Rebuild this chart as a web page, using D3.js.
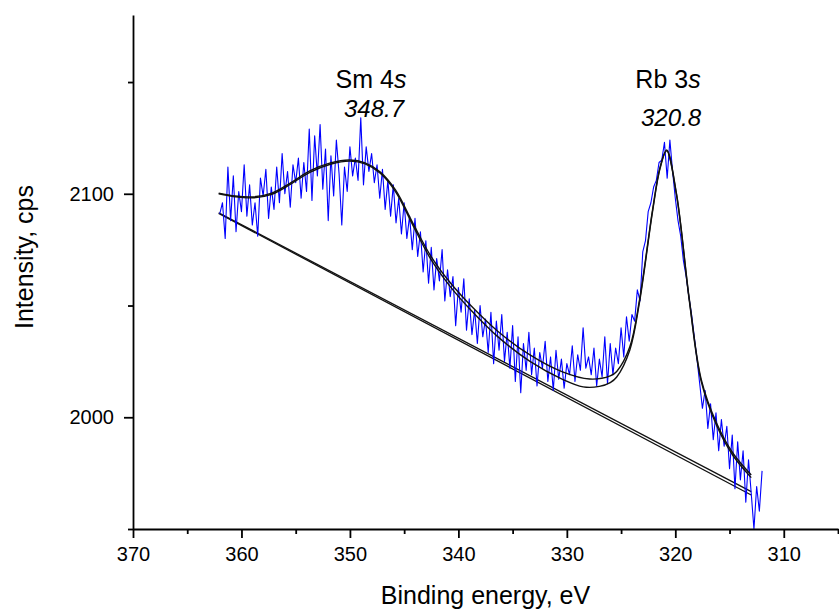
<!DOCTYPE html>
<html><head><meta charset="utf-8">
<script src="https://cdn.jsdelivr.net/npm/d3@7"></script>
<style>body{margin:0;background:#fff}svg{display:block}</style>
</head><body>
<svg id="c" width="839" height="613"></svg>
<script>
// ---- DATA ----
const energyStart = 362.0;   // eV, first measured point
const energyStep = 0.25;     // eV between points (descending)
const counts = [
 2091,2096,2080,2112, 2088,2108,2083,2101, 2092,2113,2090,2104, 2086,2096,2081,2107,
 2099,2111,2089,2103, 2093,2112,2096,2118, 2100,2110,2094,2113, 2105,2116,2098,2114,
 2101,2129,2097,2126, 2108,2131,2102,2120, 2088,2117,2099,2124, 2109,2086,2112,2101,
 2121,2108,2116,2106, 2134,2104,2121,2110, 2118,2105,2113,2098, 2111,2093,2106,2090,
 2104,2087,2098,2082, 2096,2080,2090,2075, 2089,2072,2083,2065, 2079,2060,2076,2057,
 2071,2061,2075,2052, 2066,2054,2063,2041, 2058,2047,2062,2039, 2053,2037,2048,2033,
 2050,2036,2044,2029, 2047,2024,2043,2030, 2046,2025,2038,2022, 2041,2016,2036,2011,
 2033,2021,2038,2019, 2031,2014,2029,2022, 2034,2016,2027,2012, 2030,2017,2026,2013,
 2024,2019,2032,2016, 2028,2021,2040,2022, 2027,2019,2031,2014, 2026,2018,2036,2015,
 2033,2019,2031,2024, 2040,2027,2045,2034, 2046,2043,2057,2052, 2074,2079,2092,2096,
 2103,2106,2114,2115, 2123,2107,2124,2110, 2098,2088,2081,2070, 2063,2054,2046,2036,
 2026,2015,2004,2012, 1995,2006,1990,2002, 1985,1999,1987,1996, 1977,1992,1968,1989,
 1972,1985,1962,1981, 1966,1950,1969,1958, 1976
];
// fitted envelopes [eV, cps]
const envelopeA = [
 [362.1,2100.3],[360.6,2099.0],[359.0,2098.6],[357.2,2100.3],[355.5,2104.8],[353.7,2110.2],
 [351.8,2113.8],[350.0,2115.1],[348.6,2113.8],[347.2,2109.7],[345.8,2101.7],[344.2,2086.9],
 [342.6,2072.6],[340.8,2060.5],[338.9,2050.2],[336.4,2038.6],[333.4,2027.9],[330.4,2020.3],
 [327.9,2017.1],[326.0,2018.5],[325.4,2020.5],[324.2,2031.4],[323.3,2052.5],[322.1,2092.7],
 [321.4,2112.0],[320.8,2119.6],[319.9,2100.3],[318.7,2052.5],[317.6,2016.7],[316.2,1997.4],
 [314.7,1984.0],[313.0,1974.2]
];
const envelopeB = [
 [362.1,2100.0],[360.6,2098.7],[359.0,2098.2],[357.2,2099.8],[355.5,2104.2],[353.7,2109.6],
 [351.8,2113.2],[350.0,2114.6],[348.6,2113.4],[347.2,2109.2],[345.8,2101.0],[344.2,2086.0],
 [342.6,2071.2],[340.8,2058.8],[338.9,2048.2],[336.4,2036.2],[333.4,2025.0],[330.4,2017.0],
 [328.5,2013.6],[327.0,2013.8],[326.0,2015.5],[325.4,2018.0],[324.2,2030.0],[323.3,2051.5],
 [322.1,2092.0],[321.4,2111.5],[320.8,2119.2],[319.9,2099.8],[318.7,2051.8],[317.6,2015.8],
 [316.2,1996.4],[314.7,1983.0],[313.0,1973.0]
];
const backgroundA = [[362.1,2091.5],[313.0,1966.7]];
const backgroundB = [[362.1,2091.2],[313.0,1965.2]];

const xMajor = [370,360,350,340,330,320,310];
const xMinor = [365,355,345,335,325,315,305];
const yMajor = [2000,2100];
const yMinor = [1950,2050,2150];
const xDomain = [370,305];
const yDomain = [1950,2180];
const peakNames = [["Sm 4","s"],["Rb 3","s"]];
const peakPositions = [348.7, 320.8];
const xTitle = "Binding energy, eV";
const yTitle = "Intensity, cps";

// ---- LAYOUT ----
const svg = d3.select("#c");
const L = 133, R = 838, T = 15, B = 529;
const x = d3.scaleLinear().domain(xDomain).range([L,R]);
const y = d3.scaleLinear().domain(yDomain).range([B,T]);
const font = "'Liberation Sans', Arial, sans-serif";

const spectrum = counts.map((c,i)=>[energyStart - i*energyStep, c]);
const lineLin = d3.line().x(d=>x(d[0])).y(d=>y(d[1]));
const lineSmooth = d3.line().x(d=>x(d[0])).y(d=>y(d[1])).curve(d3.curveCatmullRom.alpha(0.5));

const g = svg.append("g");
[backgroundA, backgroundB].forEach(bg=>{
  g.append("path").attr("d", lineLin(bg)).attr("fill","none").attr("stroke","#111").attr("stroke-width",1.3);
});
g.append("path").attr("d", lineLin(spectrum)).attr("fill","none").attr("stroke","#0000ff").attr("stroke-width",1.1).attr("stroke-linejoin","round");
[envelopeA, envelopeB].forEach(env=>{
  g.append("path").attr("d", lineSmooth(env)).attr("fill","none").attr("stroke","#111").attr("stroke-width",1.4);
});

// axes
const axX = svg.append("g").attr("transform",`translate(0,${B})`)
  .call(d3.axisBottom(x).tickValues(xMajor).tickSize(9).tickSizeOuter(0).tickPadding(9).tickFormat(d3.format("d")));
const axXm = svg.append("g").attr("transform",`translate(0,${B})`)
  .call(d3.axisBottom(x).tickValues(xMinor).tickSize(5).tickSizeOuter(0).tickFormat(""));
const axY = svg.append("g").attr("transform",`translate(${L},0)`)
  .call(d3.axisLeft(y).tickValues(yMajor).tickSize(9).tickSizeOuter(0).tickPadding(10).tickFormat(d3.format("d")));
const axYm = svg.append("g").attr("transform",`translate(${L},0)`)
  .call(d3.axisLeft(y).tickValues(yMinor).tickSize(5).tickSizeOuter(0).tickFormat(""));
[axX,axXm,axY,axYm].forEach(a=>{
  a.selectAll("path,line").attr("stroke","#000").attr("stroke-width",1.8);
  a.selectAll("text").attr("font-family",font).attr("font-size",20).attr("fill","#000");
});
axXm.select(".domain").remove(); axYm.select(".domain").remove();

// titles
svg.append("text").attr("x",(L+R)/2).attr("y",604).attr("text-anchor","middle")
  .attr("font-family",font).attr("font-size",25).text(xTitle);
svg.append("text").attr("transform","translate(33,257) rotate(-90)").attr("text-anchor","middle")
  .attr("font-family",font).attr("font-size",25).text(yTitle);

// peak annotations
const nameX = [371, 668], valX = [374, 671], valY = [117, 126];
peakNames.forEach((p,i)=>{
  const t = svg.append("text").attr("x",nameX[i]).attr("y",88).attr("text-anchor","middle")
    .attr("font-family",font).attr("font-size",25);
  t.append("tspan").text(p[0]);
  t.append("tspan").attr("font-style","italic").text(p[1]);
  svg.append("text").attr("x",valX[i]).attr("y",valY[i]).attr("text-anchor","middle")
    .attr("font-family",font).attr("font-size",24).attr("font-style","italic").text(peakPositions[i].toFixed(1));
});
</script>
</body></html>
